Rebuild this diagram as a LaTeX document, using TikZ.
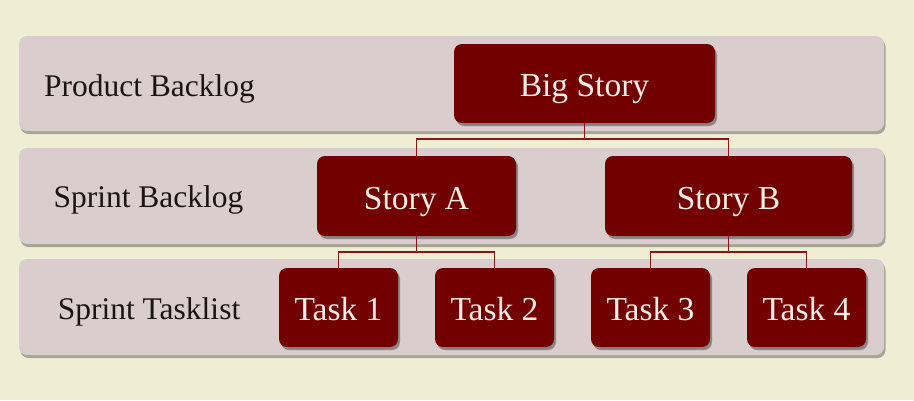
\documentclass[tikz,border=0pt]{standalone}
\usepackage{fontspec}
\setmainfont{Liberation Serif}
\usetikzlibrary{shadows}
\definecolor{bgcream}{HTML}{EFEDD3}
\definecolor{bandfill}{HTML}{D9CDCE}
\definecolor{boxred}{HTML}{720000}
\definecolor{linered}{HTML}{8E1414}
\definecolor{boxtext}{HTML}{F6EEE6}
\definecolor{labeltext}{HTML}{1A1414}
\tikzset{
  band/.style={draw=none, fill=bandfill, rounded corners=8pt, minimum width=865pt,
    drop shadow={shadow xshift=1.5pt, shadow yshift=-3pt, opacity=0.45, fill=black!70}},
  storybox/.style={draw=none, fill=boxred, rounded corners=8pt, text=boxtext,
    font=\fontsize{33.5}{38}\selectfont, inner sep=0pt, text height=26pt, text depth=0pt,
    drop shadow={shadow xshift=2pt, shadow yshift=-3pt, opacity=0.35, fill=black}},
  bandlabel/.style={text=labeltext, font=\fontsize{31.5}{36}\selectfont, inner sep=0pt, anchor=base},
  link/.style={draw=linered, line width=1.4pt}
}
\begin{document}
\begin{tikzpicture}[x=1pt,y=-1pt]
  \fill[bgcream] (0,0) rectangle (914,400);
  \useasboundingbox (0,0) rectangle (914,400);
  % bands
  \node[band, minimum height=95pt] (b1) at (451.5,83.5) {};
  \node[band, minimum height=96pt] (b2) at (451.5,196) {};
  \node[band, minimum height=96pt] (b3) at (451.5,307) {};
  % labels
  \node[bandlabel] (l1) at (149.5,96) {Product Backlog};
  \node[bandlabel] (l2) at (148.5,207.7) {Sprint Backlog};
  \node[bandlabel] (l3) at (149,319) {Sprint Tasklist};
  % boxes
  \node[storybox, minimum width=261pt, minimum height=79pt] (big) at (584.5,83.5) {Big Story};
  \node[storybox, minimum width=199pt, minimum height=80pt] (sa) at (416.5,196) {Story A};
  \node[storybox, minimum width=247pt, minimum height=80pt] (sb) at (728.5,196) {Story B};
  \node[storybox, minimum width=119pt, minimum height=79pt] (t1) at (338.5,307.5) {Task 1};
  \node[storybox, minimum width=119pt, minimum height=79pt] (t2) at (494.5,307.5) {Task 2};
  \node[storybox, minimum width=119pt, minimum height=79pt] (t3) at (650.5,307.5) {Task 3};
  \node[storybox, minimum width=119pt, minimum height=79pt] (t4) at (806.5,307.5) {Task 4};
  % connectors
  \coordinate (j0) at (584.5,139);
  \coordinate (j1) at (416.5,252);
  \coordinate (j2) at (728.5,252);
  \draw[link] (big.south) -- (j0);
  \draw[link] (j0) -| (sa.north);
  \draw[link] (j0) -| (sb.north);
  \draw[link] (sa.south) -- (j1);
  \draw[link] (j1) -| (t1.north);
  \draw[link] (j1) -| (t2.north);
  \draw[link] (sb.south) -- (j2);
  \draw[link] (j2) -| (t3.north);
  \draw[link] (j2) -| (t4.north);
\end{tikzpicture}
\end{document}
